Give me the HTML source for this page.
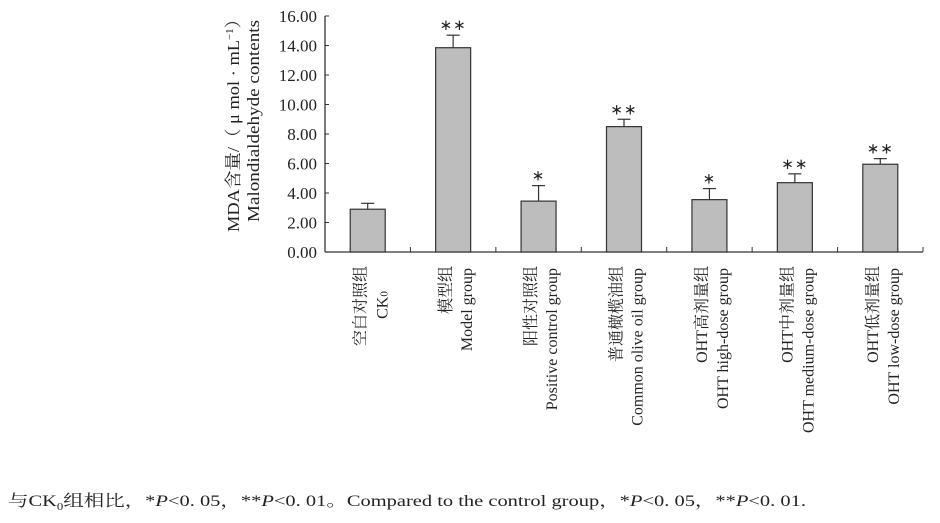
<!DOCTYPE html>
<html><head><meta charset="utf-8">
<style>
html,body{margin:0;padding:0;background:#fff;}
svg{display:block;}
text{font-family:"Liberation Serif","Noto Serif CJK SC",serif;fill:#222;}
</style></head>
<body>
<svg id="chart" width="940" height="523" viewBox="0 0 940 523" xmlns="http://www.w3.org/2000/svg">
<g id="axes"></g>
<g id="bars"></g>
<g id="labels"></g>
<g>
  <text transform="translate(239,121) rotate(-90)" text-anchor="middle" font-size="17" textLength="222" lengthAdjust="spacingAndGlyphs">MDA含量/（ μ mol · mL<tspan dy="-6" font-size="10">−1</tspan><tspan dy="6">）</tspan></text>
  <text transform="translate(259,121) rotate(-90)" text-anchor="middle" font-size="17" textLength="202" lengthAdjust="spacingAndGlyphs">Malondialdehyde contents</text>
</g>
<text x="8" y="506" font-size="16" textLength="798" lengthAdjust="spacingAndGlyphs">与CK<tspan font-size="10" dy="4">0</tspan><tspan dy="-4">组相比，*</tspan><tspan font-style="italic">P</tspan>&lt;0. 05，**<tspan font-style="italic">P</tspan>&lt;0. 01。Compared to the control group，*<tspan font-style="italic">P</tspan>&lt;0. 05，**<tspan font-style="italic">P</tspan>&lt;0. 01.</text>
</svg>
<script>
const categoriesCn = ["空白对照组","模型组","阳性对照组","普通橄榄油组","OHT高剂量组","OHT中剂量组","OHT低剂量组"];
const categoriesEn = ["CK0","Model group","Positive control group","Common olive oil group","OHT high-dose group","OHT medium-dose group","OHT low-dose group"];
const values = [2.9, 13.85, 3.45, 8.5, 3.55, 4.7, 5.95];
const errors = [0.4, 0.85, 1.05, 0.5, 0.75, 0.6, 0.38];
const signif = ["", "**", "*", "**", "*", "**", "**"];
const yTicks = [0,2,4,6,8,10,12,14,16];
const yTickLabels = ["0.00","2.00","4.00","6.00","8.00","10.00","12.00","14.00","16.00"];

const NS="http://www.w3.org/2000/svg";
const x0=325, x1=923, yBase=252, yTop=16, yMax=16;
const n=categoriesCn.length, gw=(x1-x0)/n;
const yS=v=>yBase-(v/yMax)*(yBase-yTop);
const xC=i=>x0+gw*(i+0.5);
function mk(tag,attrs,parent){const e=document.createElementNS(NS,tag);for(const k in attrs)e.setAttribute(k,attrs[k]);parent.appendChild(e);return e;}
const axes=document.getElementById('axes'),bars=document.getElementById('bars'),labels=document.getElementById('labels');
let e;
e=mk('line',{x1:x0,y1:yTop,x2:x0,y2:yBase,stroke:'#333','stroke-width':1.3},axes);


e=mk('line',{x1:x0,y1:yBase,x2:x1,y2:yBase,stroke:'#333','stroke-width':1.3},axes);


yTicks.forEach((t,i)=>{
  const y=yS(t);
  e=mk('line',{x1:x0,y1:y,x2:x0+4,y2:y,stroke:'#333','stroke-width':1},axes);
  
  
  e=mk('text',{x:317,y:y+6,'text-anchor':'end','font-size':17},axes);
  e.textContent=yTickLabels[i];
  
  
});
for(let i=1;i<=n;i++){
  const x=x0+gw*i;
  e=mk('line',{x1:x,y1:yBase,x2:x,y2:yBase-5,stroke:'#333','stroke-width':1},axes);
  
  
}
const bw=35;
values.forEach((v,i)=>{
  const cx=xC(i), yt=yS(v), ye=yS(v+errors[i]);
  e=mk('line',{x1:cx,y1:yt,x2:cx,y2:ye,stroke:'#333','stroke-width':1.2},bars);
  
  
  e=mk('line',{x1:cx-6.5,y1:ye,x2:cx+6.5,y2:ye,stroke:'#333','stroke-width':1.2},bars);
  
  
  e=mk('rect',{x:cx-bw/2,y:yt,width:bw,height:yBase-yt,fill:'#bdbdbd',stroke:'#333','stroke-width':1.2},bars);
  
  
  if(signif[i]){
    e=mk('text',{x:cx,y:ye-5,'text-anchor':'middle','font-size':15,'letter-spacing':1,fill:'#444'},bars);
    e.textContent=signif[i].replace(/\*/g,'∗');
    
    
  }
  const l1=mk('text',{transform:`translate(${cx-8},266) rotate(-90)`,'text-anchor':'end','font-size':16,dy:'0.35em'},labels);
  l1.textContent=categoriesCn[i];
  
  
  let l2;
  if(i===0){
    l2=mk('text',{transform:`translate(${cx+14},305) rotate(-90)`,'text-anchor':'middle','font-size':16,dy:'0.35em'},labels);
    l2.innerHTML='CK<tspan font-size="11">0</tspan>';
  } else {
    l2=mk('text',{transform:`translate(${cx+13},268) rotate(-90)`,'text-anchor':'end','font-size':16,dy:'0.35em'},labels);
    l2.textContent=categoriesEn[i];
  }
  
  
});
</script>
</body></html>
